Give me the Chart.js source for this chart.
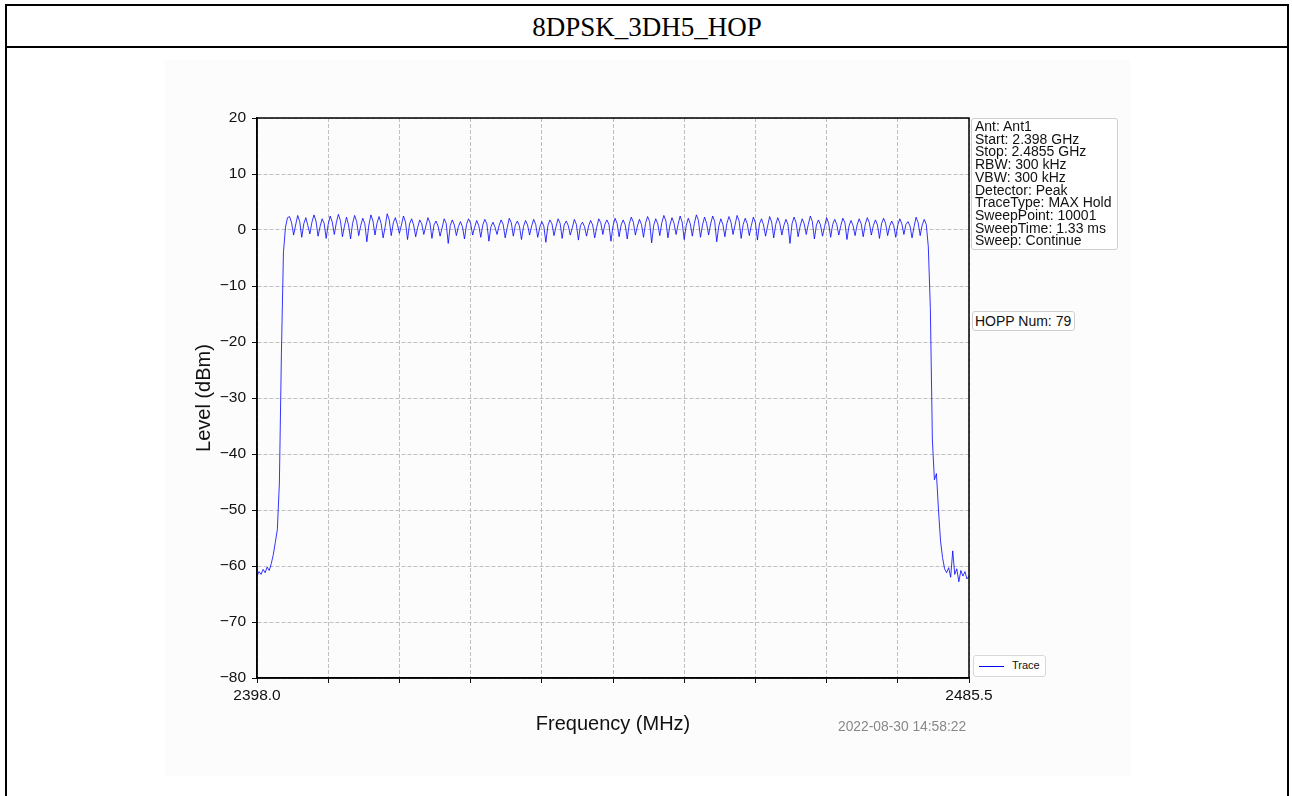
<!DOCTYPE html>
<html>
<head>
<meta charset="utf-8">
<script src="https://cdn.jsdelivr.net/npm/chart.js@4.4.1/dist/chart.umd.min.js"></script>
<style>
  html, body { margin: 0; padding: 0; background: #fff; }
  body { width: 1292px; height: 796px; position: relative; overflow: hidden; font-family: "Liberation Sans", Arial, sans-serif; }
  .frame { position: absolute; left: 5px; top: 4px; width: 1280px; height: 820px; border: 2px solid #000; }
  .head { position: absolute; left: 5px; top: 46px; width: 1284px; height: 2px; background: #000; }
  .titulo { position: absolute; left: 7px; top: 6px; width: 1280px; height: 40px; line-height: 42px; text-align: center;
            font-family: "Liberation Serif", "Times New Roman", serif; font-size: 27px; color: #000; }
  .fondo { position: absolute; left: 165px; top: 60px; width: 965px; height: 716px; background: #fcfcfc; }
  canvas#grafico { position: absolute; left: 0; top: 0; }
  .info { position: absolute; left: 971px; top: 118px; width: 140px; height: 127px; padding: 1px 2px 2px 3px; border: 1px solid #cfcfcf; border-radius: 3px;
          background: #fff; font-size: 14px; line-height: 12.7px; color: #111; white-space: nowrap; }
  .hopp { position: absolute; left: 972px; top: 311px; padding: 1px 3px 1px 2px; border: 1px solid #cfcfcf; border-radius: 3px;
          background: #fff; font-size: 14px; line-height: 16px; color: #111; }
  .leyenda { position: absolute; left: 973px; top: 655px; width: 71px; height: 20px; border: 1px solid #d8d8d8; border-radius: 3px; background: #fff; }
  .leyenda i { position: absolute; left: 5px; top: 10px; width: 25px; height: 1px; background: #0000ff; }
  .leyenda span { position: absolute; left: 38px; top: 3px; font-size: 11px; color: #111; }
  .fecha { position: absolute; left: 838px; top: 719px; font-size: 13.8px; color: #888; }
</style>
</head>
<body>
<div class="frame"></div>
<div class="head"></div>
<div class="titulo">8DPSK_3DH5_HOP</div>
<div class="fondo"></div>
<canvas id="grafico" width="1292" height="796"></canvas>
<div class="info" id="info"></div>
<div class="hopp">HOPP Num: 79</div>
<div class="leyenda"><i></i><span>Trace</span></div>
<div class="fecha">2022-08-30 14:58:22</div>

<script>
// Datos del barrido (MHz / dBm)
const inicioMHz = 2398.0;
const finMHz = 2485.5;
const xTicks = [2398.0, 2406.75, 2415.5, 2424.25, 2433.0, 2441.75, 2450.5, 2459.25, 2468.0, 2476.75, 2485.5];
const yTicks = [-80, -70, -60, -50, -40, -30, -20, -10, 0, 10, 20];
const infoLineas = ['Ant: Ant1', 'Start: 2.398 GHz', 'Stop: 2.4855 GHz', 'RBW: 300 kHz', 'VBW: 300 kHz',
  'Detector: Peak', 'TraceType: MAX Hold', 'SweepPoint: 10001', 'SweepTime: 1.33 ms', 'Sweep: Continue'];

// nivel cada 0.25 MHz desde 2398.0 hasta 2485.5
const flancoIzq = [-61.8, -61.0, -61.5, -60.6, -61.2, -60.2, -60.8, -59.6, -58.0, -55.8, -53.5, -45.2, -22.0, -4.0, 0.5, 2.2];
const meseta = [
  2.4,1.3,-0.9,0.9, 2.6,1.5,-1.3,1.1, 2.2,0.8,-0.7,1.4, 2.7,1.6,-1.1,0.6, 2.0,1.2,-1.5,1.0, 2.5,1.4,-0.8,1.3, 2.8,1.7,-1.2,0.7, 2.3,0.9,-1.6,1.2, 2.6,1.5,-1.0,0.8, 2.1,1.1,-2.1,0.9,
  2.7,1.6,-0.9,1.2, 2.4,1.2,-1.4,0.6, 2.9,1.8,-1.0,1.3, 2.2,1.0,-0.6,0.9, 2.5,1.4,-1.7,1.1, 2.0,0.9,-1.2,0.5, 1.8,1.1,-0.8,0.7, 2.2,1.3,-1.5,0.9, 1.6,0.7,-1.1,0.4, 2.0,1.2,-2.4,0.8,
  1.8,0.9,-1.0,0.6, 1.5,0.6,-1.6,1.0, 2.0,1.2,-0.9,0.5, 1.7,0.8,-1.3,0.9, 1.9,1.1,-2.0,0.6, 1.4,0.5,-0.8,0.8, 1.8,1.0,-1.4,0.4, 2.1,1.3,-1.1,0.9, 1.6,0.7,-1.7,0.6, 1.7,0.9,-0.9,0.7,
  1.9,1.0,-1.3,0.5, 1.5,0.7,-2.2,0.8, 1.8,1.1,-1.0,0.6, 2.0,1.2,-1.5,0.9, 1.6,0.8,-0.9,0.4, 1.9,1.0,-1.8,0.8, 1.4,0.6,-1.1,0.7, 1.7,0.9,-1.4,0.5, 2.0,1.3,-0.8,1.0, 1.8,1.0,-2.0,0.7,
  2.1,1.2,-1.2,0.9, 1.8,0.9,-1.6,1.1, 2.3,1.4,-0.9,0.7, 1.9,1.0,-1.3,1.2, 2.4,1.5,-2.3,0.8, 2.0,1.1,-1.0,1.3, 2.6,1.6,-1.4,0.9, 2.2,1.2,-0.8,1.0, 2.5,1.4,-1.7,0.8, 2.1,1.1,-1.1,1.2,
  2.7,1.7,-1.3,0.9, 2.3,1.2,-0.9,1.1, 2.5,1.5,-2.1,0.7, 2.0,1.0,-1.2,1.2, 2.4,1.4,-0.8,0.9, 2.6,1.6,-1.5,1.0, 2.1,1.1,-1.0,0.8, 2.3,1.3,-1.8,1.1, 2.0,0.9,-1.1,0.7, 2.4,1.4,-1.4,1.0,
  2.2,1.2,-0.9,0.8, 1.9,1.0,-2.4,1.1, 2.3,1.3,-1.2,0.7, 2.0,1.1,-0.8,1.0, 2.5,1.5,-1.6,0.9, 1.8,0.9,-1.1,0.6, 2.2,1.2,-1.3,1.0, 1.9,1.0,-0.9,0.8, 2.1,1.3,-1.7,0.7, 1.7,0.8,-1.0,0.9,
  2.0,1.1,-1.2,1.0, 2.2,1.3,-0.9,0.8, 1.8,0.9,-1.5,1.1, 2.1,1.2,-1.0,0.7, 1.6,0.8,-1.3,0.9, 2.0,1.1,-0.8,1.0, 1.5,0.7,-1.4,0.6, 2.3,1.3,-1.0,0.9,
  1.9, 1.0, -3.0
];
const flancoDer = [-14.0, -37.5, -44.6, -43.5, -50.0, -55.5, -58.5, -60.5, -61.2, -60.3, -62.0, -57.3, -61.5, -60.5, -62.8, -60.8, -61.8, -61.0, -62.3, -61.8];

const niveles = flancoIzq.concat(meseta, flancoDer);
const paso = (finMHz - inicioMHz) / (niveles.length - 1);
const puntos = niveles.map((v, i) => ({ x: inicioMHz + i * paso, y: v }));

document.getElementById('info').innerHTML = infoLineas.join('<br>');

const menos = v => (v < 0 ? '\u2212' + Math.abs(v) : String(v));

// marco superior y derecho del area de trazado
const marco = {
  id: 'marco',
  afterDraw(chart) {
    const a = chart.chartArea, c = chart.ctx;
    c.save();
    c.setLineDash([]);
    c.strokeStyle = '#000';
    c.lineWidth = 1.5;
    c.strokeRect(a.left, a.top, a.right - a.left, a.bottom - a.top);
    c.restore();
  }
};

const rejilla = { color: '#b0b0b0', lineWidth: 0.8, tickLength: 5, tickColor: '#111', tickWidth: 1, tickBorderDash: [] };
const borde = { color: '#000', width: 1.5, dash: [4, 2] };
const fuenteTick = { family: 'Liberation Sans', size: 15.5 };
const fuenteTitulo = { family: 'Liberation Sans', size: 20 };

const ctx = document.getElementById('grafico').getContext('2d');
new Chart(ctx, {
  type: 'line',
  data: {
    datasets: [{
      label: 'Trace',
      data: puntos,
      borderColor: '#0000ff',
      borderWidth: 0.8,
      pointRadius: 0,
      tension: 0,
      fill: false
    }]
  },
  options: {
    responsive: false,
    animation: false,
    layout: { padding: { left: 192, top: 118, right: 323, bottom: 60 } },
    plugins: { legend: { display: false }, tooltip: { enabled: false } },
    scales: {
      x: {
        type: 'linear',
        min: inicioMHz,
        max: finMHz,
        afterBuildTicks: s => { s.ticks = xTicks.map(v => ({ value: v })); },
        afterFit: s => { s.height = 58; },
        ticks: {
          autoSkip: false, maxRotation: 0, padding: 3,
          color: '#111', font: fuenteTick,
          callback: (v) => (v === inicioMHz || v === finMHz ? v.toFixed(1) : '')
        },
        grid: rejilla,
        border: borde,
        title: { display: true, text: 'Frequency (MHz)', color: '#111', padding: 0, font: fuenteTitulo }
      },
      y: {
        min: -80,
        max: 20,
        afterBuildTicks: s => { s.ticks = yTicks.map(v => ({ value: v })); },
        afterFit: s => { s.width = 65; },
        ticks: {
          padding: 6, color: '#111', font: fuenteTick,
          callback: v => menos(v)
        },
        grid: rejilla,
        border: borde,
        title: { display: true, text: 'Level (dBm)', color: '#111', padding: 0, font: fuenteTitulo }
      }
    }
  },
  plugins: [marco]
});
</script>
</body>
</html>
